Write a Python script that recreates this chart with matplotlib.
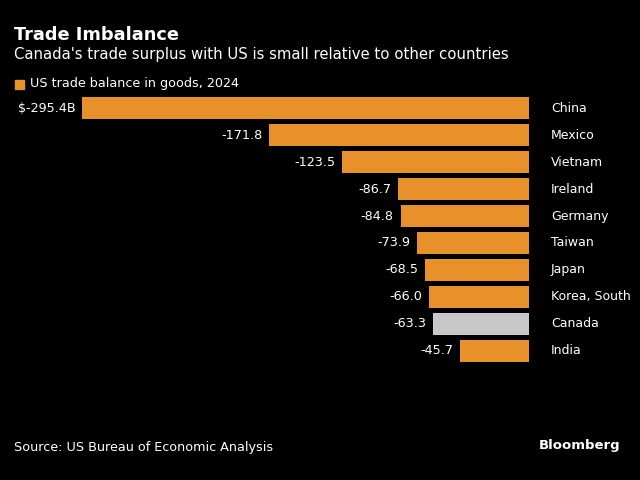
import matplotlib
matplotlib.use("Agg")
import matplotlib.pyplot as plt

countries = ["China", "Mexico", "Vietnam", "Ireland", "Germany", "Taiwan", "Japan", "Korea, South", "Canada", "India"]
values = [-295.4, -171.8, -123.5, -86.7, -84.8, -73.9, -68.5, -66.0, -63.3, -45.7]
labels = ["$-295.4B", "-171.8", "-123.5", "-86.7", "-84.8", "-73.9", "-68.5", "-66.0", "-63.3", "-45.7"]

orange = "#e8912a"
grey = "#c8c8c8"
colors = [grey if c == "Canada" else orange for c in countries]

fig = plt.figure(figsize=(6.4, 4.8), dpi=100, facecolor="black")
ax = fig.add_axes([82/640, 1-362/480, (529-82)/640, (362-97)/480], facecolor="black")
y = list(range(len(countries)))
ax.barh(y, [abs(v) for v in values], left=values, height=0.81, color=colors)
ax.set_xlim(-295.4, 0)
ax.set_ylim(len(countries) - 1 + 0.41, -0.41)
ax.axis("off")
for i, (v, lab, c) in enumerate(zip(values, labels, countries)):
    ax.text(v - 4.5, i, lab, ha="right", va="center", color="white", fontsize=9.2)
    ax.text(14.5, i, c, ha="left", va="center", color="white", fontsize=9)

fig.text(14/640, 1-35/480, "Trade Imbalance", color="white", fontsize=12.8, fontweight="bold", va="center")
fig.text(14/640, 1-55/480, "Canada's trade surplus with US is small relative to other countries", color="white", fontsize=10.7, va="center")
fig.patches.append(plt.Rectangle((15/640, 1-89/480), 9/640, 9/480, transform=fig.transFigure, color=orange))
fig.text(30/640, 1-84/480, "US trade balance in goods, 2024", color="white", fontsize=9.2, va="center")
fig.text(14/640, 1-448/480, "Source: US Bureau of Economic Analysis", color="white", fontsize=9.2, va="center")
fig.text(620/640, 1-446/480, "Bloomberg", color="white", fontsize=9.5, fontweight="bold", va="center", ha="right")
fig.savefig("out.png", dpi=100, facecolor="black")
